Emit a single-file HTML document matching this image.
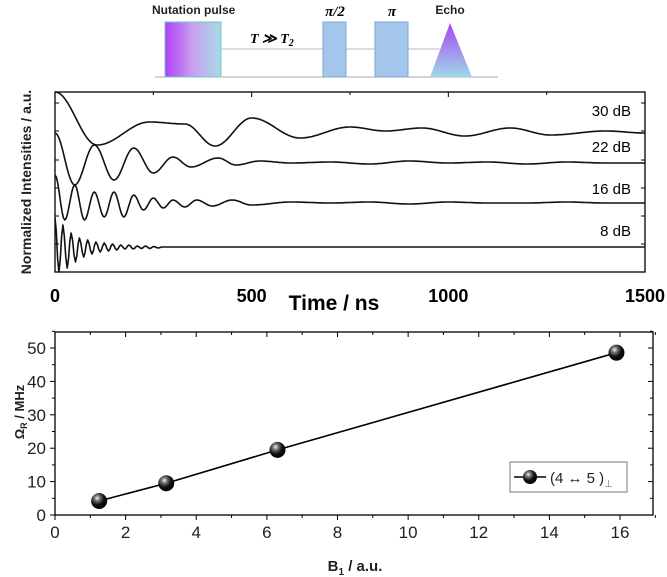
<!DOCTYPE html>
<html><head><meta charset="utf-8"><style>
body{margin:0;background:#fff}
svg{display:block;font-family:"Liberation Sans",sans-serif}
</style></head><body>
<svg width="667" height="577" viewBox="0 0 667 577">
<defs>
<linearGradient id="nut" x1="0" x2="1" y1="0" y2="0"><stop offset="0" stop-color="#b13ff7"/><stop offset="0.5" stop-color="#c8a0ee"/><stop offset="1" stop-color="#a6dbe6"/></linearGradient>
<linearGradient id="echo" x1="0" x2="0" y1="0" y2="1"><stop offset="0" stop-color="#a845f0"/><stop offset="1" stop-color="#9fd9e8"/></linearGradient>
<radialGradient id="ball" cx="0.38" cy="0.32" r="0.7"><stop offset="0" stop-color="#f4f4f4"/><stop offset="0.25" stop-color="#777"/><stop offset="0.6" stop-color="#111"/><stop offset="1" stop-color="#000"/></radialGradient>
</defs>
<g>
<line x1="155" y1="77" x2="498" y2="77" stroke="#aaa" stroke-width="1"/>
<line x1="222" y1="49" x2="440" y2="49" stroke="#bbb" stroke-width="1"/>
<rect x="165" y="22" width="56" height="55" fill="url(#nut)" stroke="#6cc7c7" stroke-width="1"/>
<text x="152" y="14" font-size="12" font-weight="bold" fill="#222">Nutation pulse</text>
<text x="250" y="43" font-size="14" font-weight="bold" font-style="italic" font-family="Liberation Serif,serif">T ≫ T<tspan font-size="10" dy="3">2</tspan></text>
<rect x="323" y="22" width="23" height="55" fill="#a4c6ea" stroke="#7ea5d4"/>
<text x="335" y="16" font-size="15" font-weight="bold" font-style="italic" text-anchor="middle" font-family="Liberation Serif,serif">π/2</text>
<rect x="375" y="22" width="33" height="55" fill="#a4c6ea" stroke="#7ea5d4"/>
<text x="392" y="16" font-size="15" font-weight="bold" font-style="italic" text-anchor="middle" font-family="Liberation Serif,serif">π</text>
<polygon points="450,23 430,77 472,77" fill="url(#echo)"/>
<text x="450" y="14" font-size="12" font-weight="bold" text-anchor="middle" fill="#222">Echo</text>
</g>
<g id="top"></g>
<g id="bot"></g>
</svg>
<script>
const NS="http://www.w3.org/2000/svg";
function mk(p,t,a,txt){const e=document.createElementNS(NS,t);for(const k in a)e.setAttribute(k,a[k]);if(txt!==undefined)e.textContent=txt;p.appendChild(e);return e;}

// ---- top chart data (extrema of traces, intensity in arbitrary units) ----
const t30=[0,107,240,330,407,500,623,750,840,933,1042,1157,1260,1400,1500];
const v30=[180,127,150,148,126,154,134,145,141,144,136,144,137,141,139];
const t22=[0,50,100,150,200,250,300,345,415,460,520,600,700,800,900,1000,1100,1200,1300,1400,1500];
const v22=[139,87,127,92,124,99,115,105,114,107,111,109,110,108,111,109,110,108,110,109,109];
const t16=[0,25,50,75,100,125,150,175,200,225,250,275,300,330,360,400,450,500,600,700,800,900,1000,1100,1200,1300,1400,1500];
const v16=[97,52,87,52,80,55,80,55,77,62,74,64,72,65,72,66,72,67,70,69,70,68,70,69,69,70,69,69];
const t8=[0,10,20,31,41,52,62,73,83,94,104,115,125,136,146,157,167,178,188,199,209,220,230,241,251,262,272,1500];
const v8=[54,0,47,4,39,10,34,15,32,18,30,20,29,21,28,22,27,23,27,23,26,23.5,26,23.5,25.5,24,25,25];
const traceNames=["30 dB","22 dB","16 dB","8 dB"];
const xTicksTop=[0,500,1000,1500];

const T=document.getElementById('top');
const L=55,R=645,TOP=92,BOT=272;
const xs=t=>L+(t/1500)*(R-L);
const ys=v=>BOT-v;
mk(T,'rect',{x:L,y:TOP,width:R-L,height:BOT-TOP,fill:'none',stroke:'#000','stroke-width':1.3});
xTicksTop.forEach(t=>{
 const x=xs(t);
 mk(T,'line',{x1:x,x2:x,y1:TOP,y2:TOP+5,stroke:'#000'});
 const e=mk(T,'text',{x:x,y:302,'font-size':18,'font-weight':'bold','text-anchor':'middle'},t);
 
 
});
[250,750,1250].forEach(t=>{const x=xs(t);mk(T,'line',{x1:x,x2:x,y1:TOP,y2:TOP+3,stroke:'#000'});});
[103,131,160,188,216,244].forEach(y=>{
 mk(T,'line',{x1:L,x2:L+4,y1:y,y2:y,stroke:'#000'});
 mk(T,'line',{x1:R,x2:R-4,y1:y,y2:y,stroke:'#000'});
});
function trace(ts,vs,name){
 let d='M'+xs(ts[0]).toFixed(1)+','+ys(vs[0]).toFixed(1);
 for(let i=0;i<ts.length-1;i++){
  const n=Math.max(2,Math.ceil((xs(ts[i+1])-xs(ts[i]))/1.5));
  for(let k=1;k<=n;k++){const f=k/n,w=(1-Math.cos(Math.PI*f))/2;
   const t=ts[i]+(ts[i+1]-ts[i])*f,v=vs[i]+(vs[i+1]-vs[i])*w;
   d+='L'+xs(t).toFixed(1)+','+ys(v).toFixed(1);}
 }
 const p=mk(T,'path',{d:d,fill:'none',stroke:'#111','stroke-width':1.6,'stroke-linejoin':'round'});
 
 
}
trace(t30,v30,'trace-30db');trace(t22,v22,'trace-22db');trace(t16,v16,'trace-16db');trace(t8,v8,'trace-8db');
const labY=[116,152,194,236];
traceNames.forEach((n,i)=>{
 const e=mk(T,'text',{x:631,y:labY[i],'font-size':15,'text-anchor':'end'},n);
 
 
});
let tt=mk(T,'text',{x:334,y:310,'font-size':21,'font-weight':'bold','text-anchor':'middle'},'Time / ns');


tt=mk(T,'text',{x:0,y:0,'font-size':14,'font-weight':'bold','text-anchor':'middle',fill:'#222',transform:'translate(31,182) rotate(-90)'},'Normalized Intensities / a.u.');



// ---- bottom chart data ----
const b1=[1.25,3.15,6.3,15.9];
const omega=[4.2,9.5,19.5,48.6];
const xTickVals=[0,2,4,6,8,10,12,14,16];
const yTickVals=[0,10,20,30,40,50];

const B=document.getElementById('bot');
const BL=55,BR=653,BT=332,BB=515;
const bx=v=>BL+v*(620-BL)/16;
const by=v=>BB-v*(BB-348)/50;
mk(B,'rect',{x:BL,y:BT,width:BR-BL,height:BB-BT,fill:'none',stroke:'#000','stroke-width':1.3});
for(let v=0;v<=17;v++){const x=bx(v),mj=v%2==0;
 mk(B,'line',{x1:x,x2:x,y1:BB,y2:BB+(mj?5:3),stroke:'#000'});
 mk(B,'line',{x1:x,x2:x,y1:BT,y2:BT+(mj?5:3),stroke:'#000'});}
xTickVals.forEach(v=>{const e=mk(B,'text',{x:bx(v),y:538,'font-size':17,'text-anchor':'middle',fill:'#222'},v);
 
 });
for(let v=0;v<=55;v+=5){const y=by(v),mj=v%10==0;
 mk(B,'line',{x1:BL,x2:BL-(mj?5:3),y1:y,y2:y,stroke:'#000'});
 mk(B,'line',{x1:BR,x2:BR-(mj?5:3),y1:y,y2:y,stroke:'#000'});}
yTickVals.forEach(v=>{const e=mk(B,'text',{x:46,y:by(v)+6,'font-size':17,'text-anchor':'end',fill:'#222'},v);
 
 });
let pd='';b1.forEach((v,i)=>{pd+=(i?'L':'M')+bx(v)+','+by(omega[i]);});
const ln=mk(B,'path',{d:pd,fill:'none',stroke:'#000','stroke-width':1.6});


b1.forEach((v,i)=>{const c=mk(B,'circle',{cx:bx(v),cy:by(omega[i]),r:8,fill:'url(#ball)'});
 
 });
const lg=mk(B,'g',{});


mk(lg,'rect',{x:510,y:462,width:117,height:30,fill:'#fff',stroke:'#777'});
mk(lg,'line',{x1:514,x2:546,y1:477,y2:477,stroke:'#000','stroke-width':1.6});
mk(lg,'circle',{cx:530,cy:477,r:7,fill:'url(#ball)'});
const lt=mk(lg,'text',{x:550,y:483,'font-size':15,fill:'#222'},'(4 ↔ 5 )');
mk(lt,'tspan',{'font-size':10,dy:4,fill:'#6a7fa8'},'⊥');
tt=mk(B,'text',{x:355,y:571,'font-size':15,'font-weight':'bold','text-anchor':'middle',fill:'#222'},'B');
mk(tt,'tspan',{'font-size':10,dy:4},'1');
mk(tt,'tspan',{dy:-4},' / a.u.');


tt=mk(B,'text',{x:0,y:0,'font-size':13,'font-weight':'bold','text-anchor':'middle',fill:'#222',transform:'translate(24,412) rotate(-90)'},'Ω');
mk(tt,'tspan',{'font-size':9,dy:3},'R');
mk(tt,'tspan',{dy:-3},' / MHz');


</script>
</body></html>
